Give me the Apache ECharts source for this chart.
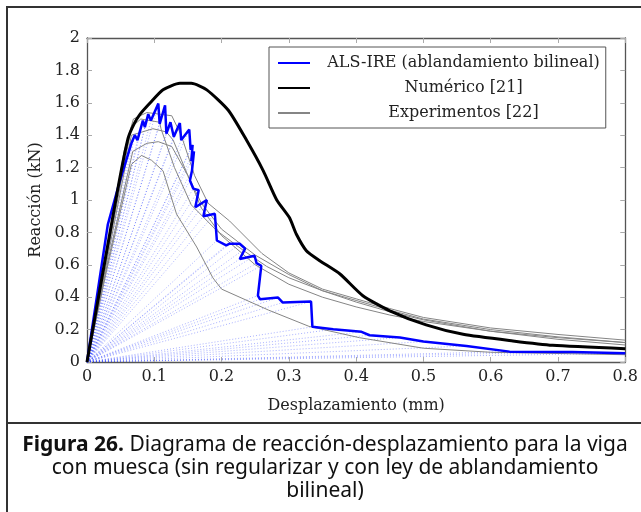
<!DOCTYPE html>
<html>
<head>
<meta charset="utf-8">
<script src="https://cdn.jsdelivr.net/npm/echarts@6/dist/echarts.min.js"></script>
<style>
  html, body { margin: 0; padding: 0; background: #fff; }
  #chart { width: 641px; height: 512px; }
</style>
</head>
<body>
<div id="chart"></div>
<script>
// Axis ticks and their printed labels
const xTicks = [0, 0.1, 0.2, 0.3, 0.4, 0.5, 0.6, 0.7, 0.8];
const xTickLabels = ['0', '0.1', '0.2', '0.3', '0.4', '0.5', '0.6', '0.7', '0.8'];
const yTicks = [0, 0.2, 0.4, 0.6, 0.8, 1, 1.2, 1.4, 1.6, 1.8, 2];
const yTickLabels = ['0', '0.2', '0.4', '0.6', '0.8', '1', '1.2', '1.4', '1.6', '1.8', '2'];

const nameALS = 'ALS-IRE (ablandamiento bilineal)';
const nameNum = 'Numérico [21]';
const nameExp = 'Experimentos [22]';

// ALS-IRE response: [displacement (mm), reaction (kN)]
const alsCurve = [
  [0, 0], [0.031, 0.85], [0.049, 1.12], [0.066, 1.35], [0.071, 1.40], [0.075, 1.37],
  [0.083, 1.49], [0.086, 1.45], [0.091, 1.53], [0.095, 1.49], [0.106, 1.595],
  [0.108, 1.47], [0.116, 1.585], [0.118, 1.41], [0.124, 1.48], [0.129, 1.39],
  [0.138, 1.475], [0.140, 1.37], [0.152, 1.435], [0.154, 1.31], [0.157, 1.34],
  [0.155, 1.24], [0.159, 1.30], [0.156, 1.18], [0.153, 1.12], [0.158, 1.07],
  [0.166, 1.06], [0.161, 0.955], [0.178, 1.00], [0.173, 0.90], [0.190, 0.915],
  [0.193, 0.75], [0.207, 0.72], [0.212, 0.73], [0.227, 0.73], [0.235, 0.70],
  [0.227, 0.636], [0.249, 0.656], [0.252, 0.61], [0.259, 0.594], [0.254, 0.41],
  [0.257, 0.388], [0.284, 0.398], [0.291, 0.367], [0.333, 0.373], [0.335, 0.217],
  [0.366, 0.202], [0.408, 0.186], [0.420, 0.165], [0.465, 0.151], [0.500, 0.126],
  [0.564, 0.099], [0.628, 0.064], [0.721, 0.062], [0.800, 0.054]
];

// Reference numerical solution
const numericoCurve = [
  [0, 0], [0.045, 1.05], [0.061, 1.38], [0.070, 1.47], [0.079, 1.53], [0.094, 1.60],
  [0.113, 1.68], [0.138, 1.72], [0.155, 1.72], [0.178, 1.68], [0.210, 1.554],
  [0.237, 1.37], [0.262, 1.18], [0.282, 1.00], [0.301, 0.89], [0.311, 0.79],
  [0.326, 0.687], [0.346, 0.625], [0.376, 0.543], [0.410, 0.409], [0.450, 0.316],
  [0.504, 0.229], [0.559, 0.171], [0.633, 0.130], [0.692, 0.103], [0.800, 0.082]
];

// Laboratory tests
const exp1 = [
  [0, 0], [0.030, 0.68], [0.055, 1.30], [0.069, 1.50], [0.089, 1.54], [0.126, 1.52],
  [0.140, 1.40], [0.160, 1.15], [0.180, 0.98], [0.212, 0.87], [0.260, 0.67],
  [0.300, 0.55], [0.350, 0.45], [0.400, 0.39], [0.450, 0.33], [0.500, 0.275],
  [0.600, 0.21], [0.700, 0.17], [0.800, 0.135]
];
const exp2 = [
  [0, 0], [0.030, 0.66], [0.066, 1.45], [0.080, 1.50], [0.108, 1.48], [0.110, 1.44],
  [0.130, 1.20], [0.155, 0.97], [0.193, 0.81], [0.232, 0.69], [0.267, 0.59],
  [0.300, 0.52], [0.350, 0.44], [0.400, 0.38], [0.450, 0.32], [0.500, 0.265],
  [0.600, 0.20], [0.700, 0.155], [0.800, 0.12]
];
const exp3 = [
  [0, 0], [0.030, 0.63], [0.066, 1.40], [0.098, 1.44], [0.118, 1.42], [0.128, 1.37],
  [0.150, 1.15], [0.170, 0.98], [0.200, 0.82], [0.250, 0.66], [0.300, 0.54],
  [0.350, 0.44], [0.400, 0.37], [0.450, 0.31], [0.500, 0.26], [0.600, 0.19],
  [0.700, 0.14], [0.800, 0.105]
];
const exp4 = [
  [0, 0], [0.030, 0.60], [0.068, 1.30], [0.089, 1.35], [0.106, 1.36], [0.126, 1.33],
  [0.150, 1.15], [0.170, 0.95], [0.200, 0.78], [0.250, 0.60], [0.300, 0.48],
  [0.350, 0.40], [0.400, 0.34], [0.450, 0.29], [0.500, 0.25], [0.600, 0.19],
  [0.700, 0.15], [0.800, 0.12]
];
const exp5 = [
  [0, 0], [0.030, 0.58], [0.066, 1.22], [0.081, 1.275], [0.096, 1.245], [0.113, 1.18],
  [0.133, 0.914], [0.163, 0.71], [0.187, 0.52], [0.200, 0.45], [0.270, 0.32],
  [0.330, 0.22], [0.405, 0.15], [0.500, 0.085], [0.600, 0.06], [0.800, 0.045]
];
const experiments = [exp1, exp2, exp3, exp4, exp5];

// Caption lines below the plot
const captionBold = 'Figura 26.';
const captionLines = [
  ' Diagrama de reacción-desplazamiento para la viga',
  'con muesca (sin regularizar y con ley de ablandamiento',
  'bilineal)'
];

const serif = 'DejaVu Serif';
const captionFont = 'Noto Sans';
const captionSize = 21;
const chart = echarts.init(document.getElementById('chart'), null, { renderer: 'canvas' });

// Secant unloading paths from the origin to every state of the ALS-IRE curve
const secants = alsCurve.slice(1).map(p => ({ coords: [[0, 0], p] }));

const tickLabel = (labels, ticks) => v => {
  const i = ticks.findIndex(t => Math.abs(t - v) < 1e-9);
  return i >= 0 ? labels[i] : '';
};

const frameLine = { show: true, onZero: false, lineStyle: { color: '#555', width: 1.3 } };
const innerTick = { show: true, inside: true, length: 5, lineStyle: { color: '#aaa', width: 1 } };
const noMarker = { color: 'rgba(0,0,0,0)' };

const option = {
  animation: false,
  backgroundColor: '#fff',
  grid: { left: 87, right: 15, top: 38, bottom: 150, containLabel: false },
  xAxis: [
    {
      type: 'value', min: 0, max: 0.8, interval: 0.1, position: 'bottom',
      axisLine: frameLine, axisTick: innerTick, splitLine: { show: false },
      axisLabel: { formatter: tickLabel(xTickLabels, xTicks), fontFamily: serif, fontSize: 16, color: '#222', margin: 7 },
      name: 'Desplazamiento (mm)', nameLocation: 'middle', nameGap: 36,
      nameTextStyle: { fontFamily: serif, fontSize: 16, color: '#222' }
    },
    {
      type: 'value', min: 0, max: 0.8, interval: 0.1, position: 'top',
      axisLine: frameLine, axisTick: innerTick, splitLine: { show: false },
      axisLabel: { show: false }
    }
  ],
  yAxis: [
    {
      type: 'value', min: 0, max: 2, interval: 0.2, position: 'left',
      axisLine: frameLine, axisTick: innerTick, splitLine: { show: false },
      axisLabel: { formatter: tickLabel(yTickLabels, yTicks), fontFamily: serif, fontSize: 16, color: '#222', margin: 7 },
      name: 'Reacción (kN)', nameLocation: 'middle', nameGap: 43,
      nameTextStyle: { fontFamily: serif, fontSize: 16, color: '#222' }
    },
    {
      type: 'value', min: 0, max: 2, interval: 0.2, position: 'right',
      axisLine: frameLine, axisTick: innerTick, splitLine: { show: false },
      axisLabel: { show: false }
    }
  ],
  legend: {
    data: [nameALS, nameNum, nameExp],
    orient: 'vertical',
    left: 269, top: 47,
    padding: [8, 6, 7, 8],
    itemWidth: 32, itemHeight: 16, itemGap: 9,
    itemStyle: { opacity: 0 },
    backgroundColor: '#fff',
    borderColor: '#555', borderWidth: 1, borderRadius: 0,
    formatter: n => '{c|' + n + '}',
    textStyle: {
      fontFamily: serif, fontSize: 16, color: '#222',
      rich: { c: { width: 297, align: 'center', fontFamily: serif, fontSize: 16, color: '#222' } }
    }
  },
  series: [
    {
      type: 'lines', coordinateSystem: 'cartesian2d', silent: true, z: 1,
      lineStyle: { color: '#3344ff', width: 1, type: [1, 2], opacity: 0.42 },
      data: secants
    },
    ...experiments.map(d => ({
      name: nameExp, type: 'line', data: d, symbol: 'none', z: 2,
      itemStyle: noMarker,
      lineStyle: { color: '#858585', width: 1 }
    })),
    {
      name: nameALS, type: 'line', data: alsCurve, symbol: 'none', z: 3,
      itemStyle: noMarker,
      lineStyle: { color: '#0000ff', width: 2.5 }
    },
    {
      name: nameNum, type: 'line', data: numericoCurve, symbol: 'none', z: 4, smooth: 0.2,
      itemStyle: noMarker,
      lineStyle: { color: '#000', width: 3 }
    }
  ],
  graphic: [
    {
      type: 'rect', silent: true, z: 100,
      shape: { x: 7, y: 7, width: 640, height: 515 },
      style: { fill: 'none', stroke: '#333', lineWidth: 2 }
    },
    {
      type: 'line', silent: true, z: 100,
      shape: { x1: 7, y1: 423, x2: 641, y2: 423 },
      style: { stroke: '#333', lineWidth: 2 }
    },
    {
      type: 'text', silent: true, z: 100, x: 325, y: 445,
      style: {
        text: '{b|' + captionBold + '}{r|' + captionLines[0] + '}',
        textAlign: 'center', textVerticalAlign: 'middle',
        rich: {
          b: { fontFamily: captionFont, fontWeight: 'bold', fontSize: captionSize, fill: '#111' },
          r: { fontFamily: captionFont, fontSize: captionSize, fill: '#111' }
        }
      }
    },
    {
      type: 'text', silent: true, z: 100, x: 325, y: 468,
      style: { text: captionLines[1], font: captionSize + 'px "' + captionFont + '"', fill: '#111', textAlign: 'center', textVerticalAlign: 'middle' }
    },
    {
      type: 'text', silent: true, z: 100, x: 325, y: 491,
      style: { text: captionLines[2], font: captionSize + 'px "' + captionFont + '"', fill: '#111', textAlign: 'center', textVerticalAlign: 'middle' }
    }
  ]
};

chart.setOption(option);
</script>
</body>
</html>
